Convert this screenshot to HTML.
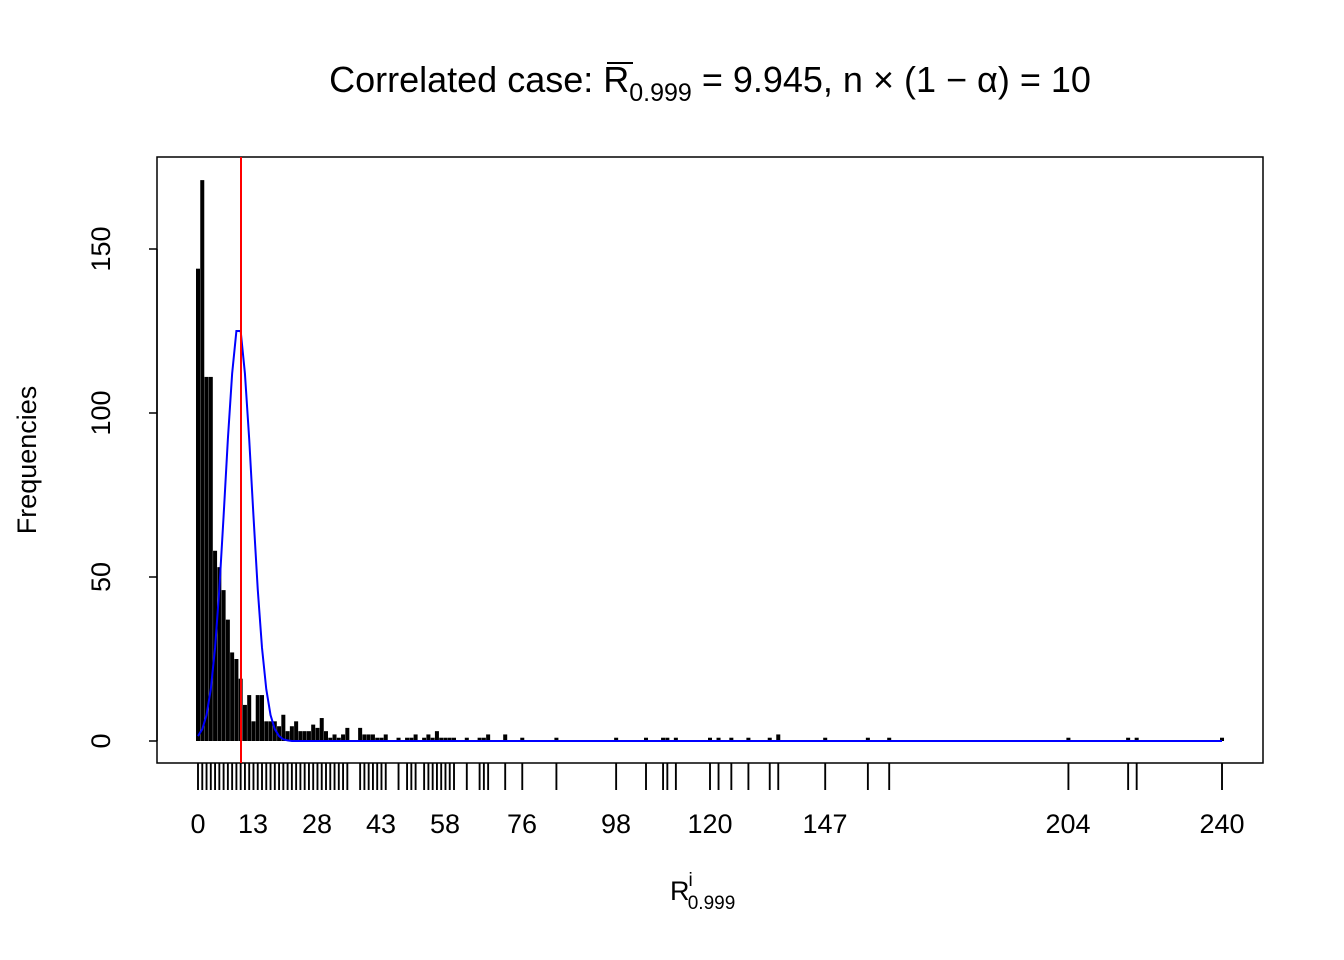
<!DOCTYPE html>
<html><head><meta charset="utf-8"><style>
body{margin:0;background:#fff}
svg{display:block;font-family:"Liberation Sans",Arial,sans-serif}
</style></head><body>
<svg width="1344" height="960" viewBox="0 0 1344 960" xmlns="http://www.w3.org/2000/svg">
<rect width="1344" height="960" fill="#fff"/>
<text x="710" y="92" font-size="36" text-anchor="middle">Correlated case: R<tspan font-size="25" dy="9">0.999</tspan><tspan dy="-9"> = 9.945, n × (1 − α) = 10</tspan></text>
<line x1="607" y1="63" x2="633" y2="63" stroke="#000" stroke-width="2"/>
<rect x="157" y="157" width="1106" height="606" fill="none" stroke="#000" stroke-width="1.5"/>
<g stroke="#000" stroke-width="1.5">
<line x1="157" y1="249" x2="157" y2="741"/>
<line x1="149" y1="741" x2="157" y2="741"/>
<line x1="149" y1="577" x2="157" y2="577"/>
<line x1="149" y1="413" x2="157" y2="413"/>
<line x1="149" y1="249" x2="157" y2="249"/>
</g>
<g font-size="27" text-anchor="middle">
<text transform="translate(110,741) rotate(-90)">0</text>
<text transform="translate(110,577) rotate(-90)">50</text>
<text transform="translate(110,413) rotate(-90)">100</text>
<text transform="translate(110,249) rotate(-90)">150</text>
<text transform="translate(36,460) rotate(-90)">Frequencies</text>
</g>
<g transform="translate(198,741) scale(4.2667,-3.28)" fill="#000">
<rect x="-0.47" y="0" width="0.94" height="144"/>
<rect x="0.53" y="0" width="0.94" height="171"/>
<rect x="1.53" y="0" width="0.94" height="111"/>
<rect x="2.53" y="0" width="0.94" height="111"/>
<rect x="3.53" y="0" width="0.94" height="58"/>
<rect x="4.53" y="0" width="0.94" height="53"/>
<rect x="5.53" y="0" width="0.94" height="46"/>
<rect x="6.53" y="0" width="0.94" height="37"/>
<rect x="7.53" y="0" width="0.94" height="27"/>
<rect x="8.53" y="0" width="0.94" height="25"/>
<rect x="9.53" y="0" width="0.94" height="19"/>
<rect x="10.53" y="0" width="0.94" height="11"/>
<rect x="11.53" y="0" width="0.94" height="14"/>
<rect x="12.53" y="0" width="0.94" height="6"/>
<rect x="13.53" y="0" width="0.94" height="14"/>
<rect x="14.53" y="0" width="0.94" height="14"/>
<rect x="15.53" y="0" width="0.94" height="6"/>
<rect x="16.53" y="0" width="0.94" height="6"/>
<rect x="17.53" y="0" width="0.94" height="6"/>
<rect x="18.53" y="0" width="0.94" height="4.5"/>
<rect x="19.53" y="0" width="0.94" height="8"/>
<rect x="20.53" y="0" width="0.94" height="3"/>
<rect x="21.53" y="0" width="0.94" height="4.5"/>
<rect x="22.53" y="0" width="0.94" height="6"/>
<rect x="23.53" y="0" width="0.94" height="3"/>
<rect x="24.53" y="0" width="0.94" height="3"/>
<rect x="25.53" y="0" width="0.94" height="3"/>
<rect x="26.53" y="0" width="0.94" height="5"/>
<rect x="27.53" y="0" width="0.94" height="4"/>
<rect x="28.53" y="0" width="0.94" height="7"/>
<rect x="29.53" y="0" width="0.94" height="3"/>
<rect x="30.53" y="0" width="0.94" height="1"/>
<rect x="31.53" y="0" width="0.94" height="2"/>
<rect x="32.53" y="0" width="0.94" height="1"/>
<rect x="33.53" y="0" width="0.94" height="2"/>
<rect x="34.53" y="0" width="0.94" height="4"/>
<rect x="37.53" y="0" width="0.94" height="4"/>
<rect x="38.53" y="0" width="0.94" height="2"/>
<rect x="39.53" y="0" width="0.94" height="2"/>
<rect x="40.53" y="0" width="0.94" height="2"/>
<rect x="41.53" y="0" width="0.94" height="1"/>
<rect x="42.53" y="0" width="0.94" height="1"/>
<rect x="43.53" y="0" width="0.94" height="2"/>
<rect x="46.53" y="0" width="0.94" height="1"/>
<rect x="48.53" y="0" width="0.94" height="1"/>
<rect x="49.53" y="0" width="0.94" height="1"/>
<rect x="50.53" y="0" width="0.94" height="2"/>
<rect x="52.53" y="0" width="0.94" height="1"/>
<rect x="53.53" y="0" width="0.94" height="2"/>
<rect x="54.53" y="0" width="0.94" height="1"/>
<rect x="55.53" y="0" width="0.94" height="3"/>
<rect x="56.53" y="0" width="0.94" height="1"/>
<rect x="57.53" y="0" width="0.94" height="1"/>
<rect x="58.53" y="0" width="0.94" height="1"/>
<rect x="59.53" y="0" width="0.94" height="1"/>
<rect x="62.53" y="0" width="0.94" height="1"/>
<rect x="65.53" y="0" width="0.94" height="1"/>
<rect x="66.53" y="0" width="0.94" height="1"/>
<rect x="67.53" y="0" width="0.94" height="2"/>
<rect x="71.53" y="0" width="0.94" height="2"/>
<rect x="75.53" y="0" width="0.94" height="1"/>
<rect x="83.53" y="0" width="0.94" height="1"/>
<rect x="97.53" y="0" width="0.94" height="1"/>
<rect x="104.53" y="0" width="0.94" height="1"/>
<rect x="108.53" y="0" width="0.94" height="1"/>
<rect x="109.53" y="0" width="0.94" height="1"/>
<rect x="111.53" y="0" width="0.94" height="1"/>
<rect x="119.53" y="0" width="0.94" height="1"/>
<rect x="121.53" y="0" width="0.94" height="1"/>
<rect x="124.53" y="0" width="0.94" height="1"/>
<rect x="128.53" y="0" width="0.94" height="1"/>
<rect x="133.53" y="0" width="0.94" height="1"/>
<rect x="135.53" y="0" width="0.94" height="2"/>
<rect x="146.53" y="0" width="0.94" height="1"/>
<rect x="156.53" y="0" width="0.94" height="1"/>
<rect x="161.53" y="0" width="0.94" height="1"/>
<rect x="203.53" y="0" width="0.94" height="1"/>
<rect x="217.53" y="0" width="0.94" height="1"/>
<rect x="219.53" y="0" width="0.94" height="1"/>
<rect x="239.53" y="0" width="0.94" height="1"/>
<polyline fill="none" stroke="#0000ff" stroke-width="2" vector-effect="non-scaling-stroke" points="0,1.5 1,3.6 2,7.9 3,15.8 4,28.4 5,46.3 6,68.6 7,92 8,112 9,125 10,125 11,112 12,92 13,68.6 14,46.3 15,28.4 16,15.8 17,7.9 18,3.6 19,1.5 20,0.5 21,0.2 22,0 240,0"/>
</g>
<line x1="241" y1="157" x2="241" y2="763" stroke="#ff0000" stroke-width="2"/>
<g transform="translate(198,763) scale(4.2667,1)" fill="#000">
<rect x="-0.22" y="0" width="0.44" height="27"/><rect x="0.78" y="0" width="0.44" height="27"/><rect x="1.78" y="0" width="0.44" height="27"/><rect x="2.78" y="0" width="0.44" height="27"/><rect x="3.78" y="0" width="0.44" height="27"/><rect x="4.78" y="0" width="0.44" height="27"/><rect x="5.78" y="0" width="0.44" height="27"/><rect x="6.78" y="0" width="0.44" height="27"/><rect x="7.78" y="0" width="0.44" height="27"/><rect x="8.78" y="0" width="0.44" height="27"/>
<rect x="9.78" y="0" width="0.44" height="27"/><rect x="10.78" y="0" width="0.44" height="27"/><rect x="11.78" y="0" width="0.44" height="27"/><rect x="12.78" y="0" width="0.44" height="27"/><rect x="13.78" y="0" width="0.44" height="27"/><rect x="14.78" y="0" width="0.44" height="27"/><rect x="15.78" y="0" width="0.44" height="27"/><rect x="16.78" y="0" width="0.44" height="27"/><rect x="17.78" y="0" width="0.44" height="27"/><rect x="18.78" y="0" width="0.44" height="27"/>
<rect x="19.78" y="0" width="0.44" height="27"/><rect x="20.78" y="0" width="0.44" height="27"/><rect x="21.78" y="0" width="0.44" height="27"/><rect x="22.78" y="0" width="0.44" height="27"/><rect x="23.78" y="0" width="0.44" height="27"/><rect x="24.78" y="0" width="0.44" height="27"/><rect x="25.78" y="0" width="0.44" height="27"/><rect x="26.78" y="0" width="0.44" height="27"/><rect x="27.78" y="0" width="0.44" height="27"/><rect x="28.78" y="0" width="0.44" height="27"/>
<rect x="29.78" y="0" width="0.44" height="27"/><rect x="30.78" y="0" width="0.44" height="27"/><rect x="31.78" y="0" width="0.44" height="27"/><rect x="32.78" y="0" width="0.44" height="27"/><rect x="33.78" y="0" width="0.44" height="27"/><rect x="34.78" y="0" width="0.44" height="27"/>
<rect x="37.78" y="0" width="0.44" height="27"/><rect x="38.78" y="0" width="0.44" height="27"/><rect x="39.78" y="0" width="0.44" height="27"/><rect x="40.78" y="0" width="0.44" height="27"/><rect x="41.78" y="0" width="0.44" height="27"/><rect x="42.78" y="0" width="0.44" height="27"/><rect x="43.78" y="0" width="0.44" height="27"/>
<rect x="46.78" y="0" width="0.44" height="27"/><rect x="48.78" y="0" width="0.44" height="27"/><rect x="49.78" y="0" width="0.44" height="27"/><rect x="50.78" y="0" width="0.44" height="27"/>
<rect x="52.78" y="0" width="0.44" height="27"/><rect x="53.78" y="0" width="0.44" height="27"/><rect x="54.78" y="0" width="0.44" height="27"/><rect x="55.78" y="0" width="0.44" height="27"/><rect x="56.78" y="0" width="0.44" height="27"/><rect x="57.78" y="0" width="0.44" height="27"/><rect x="58.78" y="0" width="0.44" height="27"/><rect x="59.78" y="0" width="0.44" height="27"/>
<rect x="62.78" y="0" width="0.44" height="27"/><rect x="65.78" y="0" width="0.44" height="27"/><rect x="66.78" y="0" width="0.44" height="27"/><rect x="67.78" y="0" width="0.44" height="27"/><rect x="71.78" y="0" width="0.44" height="27"/><rect x="75.78" y="0" width="0.44" height="27"/><rect x="83.78" y="0" width="0.44" height="27"/>
<rect x="97.78" y="0" width="0.44" height="27"/><rect x="104.78" y="0" width="0.44" height="27"/><rect x="108.78" y="0" width="0.44" height="27"/><rect x="109.78" y="0" width="0.44" height="27"/><rect x="111.78" y="0" width="0.44" height="27"/><rect x="119.78" y="0" width="0.44" height="27"/><rect x="121.78" y="0" width="0.44" height="27"/><rect x="124.78" y="0" width="0.44" height="27"/><rect x="128.78" y="0" width="0.44" height="27"/><rect x="133.78" y="0" width="0.44" height="27"/>
<rect x="135.78" y="0" width="0.44" height="27"/><rect x="146.78" y="0" width="0.44" height="27"/><rect x="156.78" y="0" width="0.44" height="27"/><rect x="161.78" y="0" width="0.44" height="27"/><rect x="203.78" y="0" width="0.44" height="27"/><rect x="217.78" y="0" width="0.44" height="27"/><rect x="219.78" y="0" width="0.44" height="27"/><rect x="239.78" y="0" width="0.44" height="27"/>
</g>
<g font-size="27" text-anchor="middle">
<text x="198" y="833">0</text>
<text x="253" y="833">13</text>
<text x="317" y="833">28</text>
<text x="381" y="833">43</text>
<text x="445" y="833">58</text>
<text x="522" y="833">76</text>
<text x="616" y="833">98</text>
<text x="710" y="833">120</text>
<text x="825" y="833">147</text>
<text x="1068" y="833">204</text>
<text x="1222" y="833">240</text>
</g>
<text x="670" y="900" font-size="27">R<tspan font-size="19" dy="-14" dx="-1">i</tspan><tspan font-size="19" dy="23" dx="-5">0.999</tspan></text>
</svg>
</body></html>
